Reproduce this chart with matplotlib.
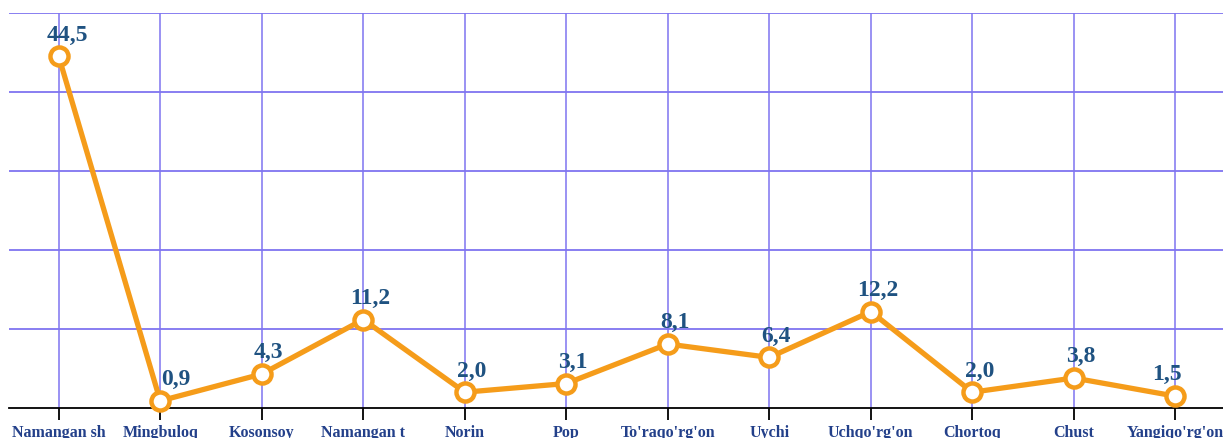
import matplotlib
matplotlib.use("Agg")
import matplotlib.pyplot as plt

# district names (cut off as in the original) and their values
districts = ["Namangan sh", "Mingbuloq", "Kosonsoy", "Namangan t", "Norin", "Pop",
             "To'raqo'rg'on", "Uychi", "Uchqo'rg'on", "Chortoq", "Chust", "Yangiqo'rg'on"]
values = [44.5, 0.9, 4.3, 11.2, 2.0, 3.1, 8.1, 6.4, 12.2, 2.0, 3.8, 1.5]
value_labels = ["44,5", "0,9", "4,3", "11,2", "2,0", "3,1", "8,1", "6,4", "12,2", "2,0", "3,8", "1,5"]
label_dx = [6, 11, 5, 5, 5, 5, 5, 5, 5, 5, 5, -6]

W, H = 1223, 439
fig = plt.figure(figsize=(W / 100, H / 100), dpi=100)
ax = fig.add_axes([9 / W, (H - 409) / H, (W - 9) / W, (409 - 14) / H])

x = list(range(len(districts)))
grid_c = "#7f74f0"

ax.set_xlim(-0.49, 11.47)
ax.set_ylim(0, 50)
ax.set_yticks([10, 20, 30, 40, 50])
ax.set_yticklabels([])
ax.tick_params(axis="y", length=0)
for y in [10, 20, 30, 40, 50]:
    ax.axhline(y, color=grid_c, lw=1.3, zorder=1)
for xi in x:
    ax.axvline(xi, color=grid_c, lw=1.1, zorder=1)

for s in ["left", "right", "top"]:
    ax.spines[s].set_visible(False)
ax.spines["bottom"].set_color("black")
ax.spines["bottom"].set_linewidth(1.3)

ax.plot(x, values, color="#f59c1a", lw=3.8, marker="o", ms=13,
        mfc="white", mec="#f59c1a", mew=3.2, zorder=3, clip_on=False)

for xi, v, t, dx in zip(x, values, value_labels, label_dx):
    ax.annotate(t, (xi, v), xytext=(dx, 16), textcoords="offset points",
                ha="center", va="center", fontsize=17, fontweight="bold",
                family="Liberation Serif", color="#1f5281", zorder=4)

ax.set_xticks(x)
ax.set_xticklabels(districts, fontsize=11.5, fontweight="bold",
                   family="Liberation Serif", color="#23408a", va="top")
ax.tick_params(axis="x", length=8.5, width=1.3, color="black", pad=3)

fig.savefig("out.png", dpi=100)
